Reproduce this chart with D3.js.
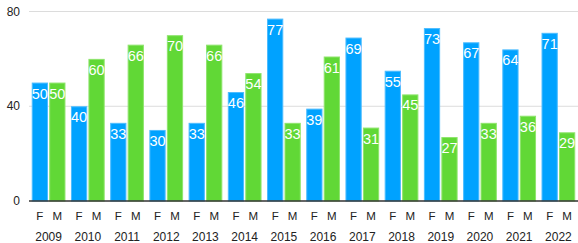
<!DOCTYPE html>
<html lang="en">
<head>
    <meta charset="UTF-8">
    <title>F / M by year</title>
    <style>
        html, body {
            margin: 0;
            padding: 0;
            background: #fff;
        }
        svg text {
            font-family: "Liberation Sans", Arial, Helvetica, sans-serif;
        }
    </style>
</head>
<body>
    <svg id="chart" width="578" height="243"></svg>

    <script src="https://d3js.org/d3.v7.min.js"></script>
    <script>
        // data
        const years = ['2009', '2010', '2011', '2012', '2013', '2014', '2015',
                       '2016', '2017', '2018', '2019', '2020', '2021', '2022'];
        const seriesKeys = ['F', 'M'];
        const valuesF = [50, 40, 33, 30, 33, 46, 77, 39, 69, 55, 73, 67, 64, 71];
        const valuesM = [50, 60, 66, 70, 66, 54, 33, 61, 31, 45, 27, 33, 36, 29];
        const yTicks = [0, 40, 80];

        const colors = {F: '#00a2ff', M: '#61d836'};
        const strokes = {F: '#4cbcff', M: '#8ee46c'};

        const rows = years.map((y, i) => ({year: y, F: valuesF[i], M: valuesM[i]}));

        const svg = d3.select('#chart');
        const margin = {left: 29, right: 0, top: 11.5, bottom: 42};
        const width = 578, height = 243;

        const x0 = d3.scaleBand()
            .domain(years)
            .range([margin.left, width - margin.right])
            .paddingInner(0.14)
            .paddingOuter(0.07);

        const x1 = d3.scaleBand()
            .domain(seriesKeys)
            .range([0, x0.bandwidth()])
            .padding(0.07)
            .paddingOuter(0);

        const y = d3.scaleLinear()
            .domain([0, 80])
            .range([height - margin.bottom, margin.top]);

        // gridlines
        svg.append('g')
            .selectAll('line')
            .data(yTicks.filter(t => t > 0))
            .join('line')
            .attr('x1', margin.left)
            .attr('x2', width)
            .attr('y1', d => y(d))
            .attr('y2', d => y(d))
            .attr('stroke', '#dcdcdc')
            .attr('stroke-width', 1);

        // y axis labels
        svg.append('g')
            .selectAll('text')
            .data(yTicks)
            .join('text')
            .attr('x', 20)
            .attr('y', d => y(d))
            .attr('dy', '0.35em')
            .attr('text-anchor', 'end')
            .attr('font-size', 12)
            .attr('fill', '#222')
            .text(d => d);

        // bars
        const groups = svg.append('g')
            .selectAll('g')
            .data(rows)
            .join('g')
            .attr('transform', d => `translate(${x0(d.year)},0)`);

        const cells = groups.selectAll('g')
            .data(d => seriesKeys.map(k => ({key: k, value: d[k]})))
            .join('g');

        cells.append('rect')
            .attr('x', d => x1(d.key) + 0.5)
            .attr('y', d => y(d.value) + 0.5)
            .attr('width', x1.bandwidth() - 1)
            .attr('height', d => y(0) - y(d.value) - 0.5)
            .attr('fill', d => colors[d.key])
            .attr('stroke', d => strokes[d.key])
            .attr('stroke-width', 1);

        cells.append('text')
            .attr('x', d => x1(d.key) + x1.bandwidth() / 2)
            .attr('y', d => y(d.value) + 16)
            .attr('text-anchor', 'middle')
            .attr('font-size', 14.5)
            .attr('fill', '#fff')
            .text(d => d.value);

        // series letters under each bar
        cells.append('text')
            .attr('x', d => x1(d.key) + x1.bandwidth() / 2)
            .attr('y', y(0) + 19)
            .attr('text-anchor', 'middle')
            .attr('font-size', 11.5)
            .attr('fill', '#222')
            .text(d => d.key);

        // year labels
        groups.append('text')
            .attr('x', x0.bandwidth() / 2)
            .attr('y', y(0) + 40)
            .attr('text-anchor', 'middle')
            .attr('font-size', 12)
            .attr('fill', '#222')
            .text(d => d.year);

        // baseline
        svg.append('line')
            .attr('x1', margin.left)
            .attr('x2', width)
            .attr('y1', y(0))
            .attr('y2', y(0))
            .attr('stroke', '#333')
            .attr('stroke-width', 1.5);
    </script>
</body>
</html>
